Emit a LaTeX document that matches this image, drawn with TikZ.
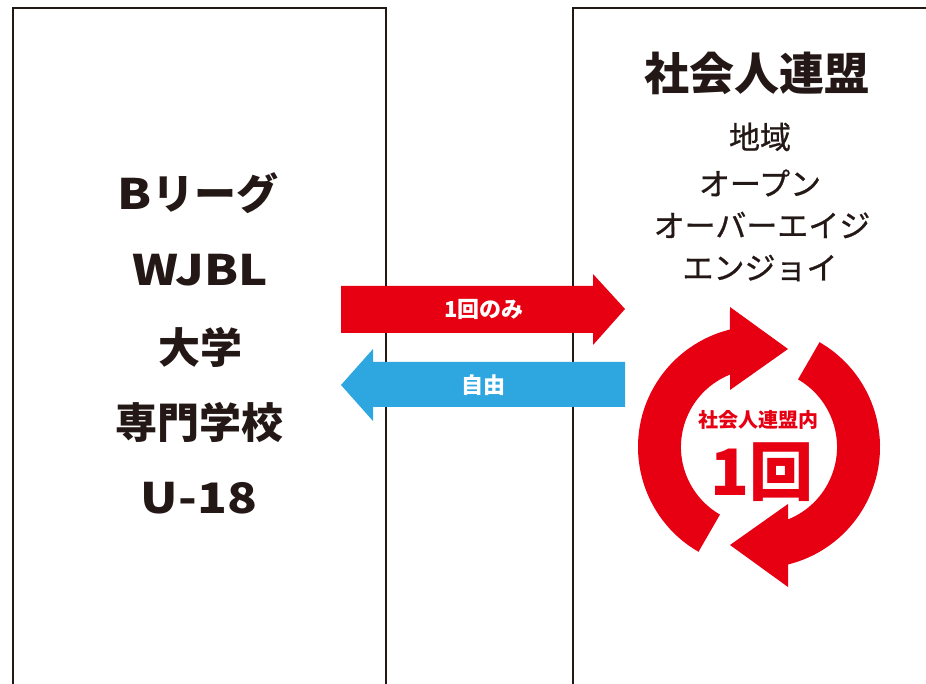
\documentclass[tikz,border=0pt]{standalone}
\usepackage{fontspec}
\setmainfont{Noto Sans CJK JP}
\newfontfamily\jpfont{Noto Sans CJK JP}
\newfontfamily\jpmed[FakeBold=0.8]{Noto Sans CJK JP}
\newfontfamily\latwide[FakeStretch=1.17]{Noto Sans CJK JP}
\definecolor{inkc}{HTML}{231815}
\definecolor{redc}{HTML}{E60012}
\definecolor{bluec}{HTML}{2EA7E0}
\tikzset{
  boxline/.style={draw=inkc, line width=2.4pt},
  bigtxt/.style={text=inkc, font=\jpfont\bfseries\fontsize{42}{46}\selectfont, inner sep=0pt, anchor=center},
  titletxt/.style={text=inkc, font=\jpfont\bfseries\fontsize{45}{48}\selectfont, inner sep=0pt, anchor=center},
  subtxt/.style={text=inkc, font=\jpmed\fontsize{31}{34}\selectfont, inner sep=0pt, anchor=center},
  arrowtxt/.style={text=white, font=\jpfont\bfseries\fontsize{22}{24}\selectfont, inner sep=0pt, anchor=center},
  ringtxt/.style={text=redc, font=\jpfont\bfseries\fontsize{20}{22}\selectfont, inner sep=0pt, anchor=center},
  onetxt/.style={text=redc, font=\jpfont\bfseries\fontsize{64}{68}\selectfont, inner sep=0pt, anchor=center},
}
\newcommand{\lw}[1]{{\latwide\bfseries #1}}
\begin{document}
\begin{tikzpicture}[x=1pt,y=1pt]
\useasboundingbox (0,0) rectangle (926,683);
% boxes
\draw[boxline] (13,-10) -- (13,675) -- (386,675) -- (386,-10);
\draw[boxline] (573,-10) -- (573,675) -- (940,675);
% left texts
\node[bigtxt] (bl) at (198,490) {\lw{B}リーグ};
\node[bigtxt] (wj) at (200,413) {\lw{WJBL}};
\node[bigtxt] (dg) at (200,336) {大学};
\node[bigtxt] (sm) at (199,261) {専門学校};
\node[bigtxt] (u18) at (199,185) {\lw{U-18}};
% right texts
\node[titletxt] (sj) at (757,610) {社会人連盟};
\node[subtxt] (ch) at (760,546) {地域};
\node[subtxt] (op) at (760,500) {オープン};
\node[subtxt] (oa) at (762,458) {オーバーエイジ};
\node[subtxt] (en) at (760,415) {エンジョイ};
% horizontal arrows
\fill[redc] (341,350) -- (593,350) -- (593,338) -- (625,374) -- (593,409) -- (593,397) -- (341,397) -- cycle;
\node[arrowtxt] (once) at (484,374) {1回のみ};
\fill[bluec] (625,276) -- (373,276) -- (373,262) -- (341,298) -- (373,334) -- (373,321) -- (625,321) -- cycle;
\node[arrowtxt] (free) at (483,298) {自由};
% ring arrows
\coordinate (c) at (759,236);
\fill[redc] (c) ++(240:121) arc[start angle=240, end angle=103.9, radius=121]
  -- (730,376) -- (788,334) -- (730,293) -- (730,308.4)
  arc[start angle=111.8, end angle=240, radius=78] -- cycle;
\fill[redc] (c) ++(60:121) arc[start angle=60, end angle=-76.1, radius=121]
  -- (788,96) -- (730,138) -- (788,179) -- (788,163.6)
  arc[start angle=-68.2, end angle=60, radius=78] -- cycle;
\node[ringtxt] (inner) at (758,263) {社会人連盟内};
\node[onetxt] (one) at (762,211) {1回};
\end{tikzpicture}
\end{document}
